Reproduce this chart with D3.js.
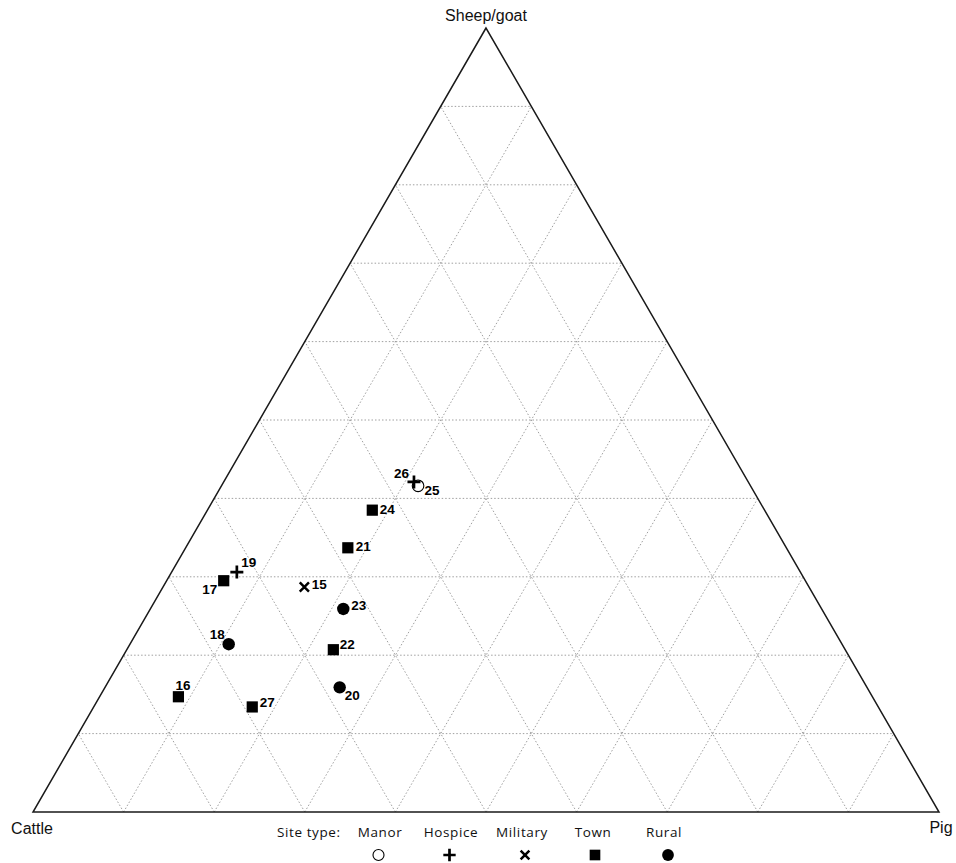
<!DOCTYPE html>
<html>
<head>
<meta charset="utf-8">
<script src="https://cdn.jsdelivr.net/npm/d3@7"></script>
<style>
  html, body { margin: 0; padding: 0; background: #fff; }
  svg { display: block; }
</style>
</head>
<body>
<svg id="chart" width="956" height="863"></svg>
<script>
// Faunal assemblage composition (% of cattle, sheep/goat, pig) by site
const siteIds   = ["15", "16", "17", "18", "19", "20", "21", "22", "23", "24", "25", "26", "27"];
const siteTypes = ["Military", "Town", "Town", "Rural", "Hospice", "Rural", "Town", "Town", "Rural", "Town", "Manor", "Hospice", "Town"];
const cattlePct = [55.7, 76.6, 64.2, 67.7, 62.2, 58.2, 48.4, 56.5, 52.8, 43.3, 36.7, 36.9, 69.1];
const sheepPct  = [28.7, 14.7, 29.5, 21.4, 30.6, 15.9, 33.7, 20.7, 25.9, 38.5, 41.6, 42.1, 13.4];
const pigPct    = [15.6,  8.7,  6.3, 10.9,  7.2, 25.9, 17.9, 22.8, 21.3, 18.2, 21.7, 21.0, 17.5];

const legendTypes = ["Manor", "Hospice", "Military", "Town", "Rural"];
const gridSteps = [10, 20, 30, 40, 50, 60, 70, 80, 90];
const axisNames = { top: "Sheep/goat", left: "Cattle", right: "Pig" };

// Label placement around each marker: [dx, dy, anchor]
const labelOffsets = {
  "15": [7.5, 2, "start"],  "16": [-3, -7, "start"], "17": [-6.5, 13.5, "end"],
  "18": [-4, -5, "end"],    "19": [4.5, -5, "start"], "20": [5, 13, "start"],
  "21": [8, 3.5, "start"],  "22": [6.5, -1, "start"], "23": [8, 1, "start"],
  "24": [7.5, 3.5, "start"],"25": [6.5, 9.5, "start"],"26": [-5, -3.5, "end"],
  "27": [7.5, 0, "start"]
};

const svg = d3.select("#chart");

// Ternary projection: vertical from sheep/goat share, horizontal from pig + half sheep/goat
const yScale = d3.scaleLinear().domain([0, 100]).range([812, 28]);
const xScale = d3.scaleLinear().domain([0, 100]).range([33, 939]);
function project(c, s, p) {
  const t = c + s + p;
  const sn = 100 * s / t, pn = 100 * p / t;
  return [xScale(pn + sn / 2), yScale(sn)];
}

// Dotted grid
const gridG = svg.append("g")
  .attr("fill", "none")
  .attr("stroke", "#a0a0a0")
  .attr("stroke-width", 1)
  .attr("stroke-dasharray", "1.5,2");
const line = d3.line();
gridSteps.forEach(k => {
  // constant sheep/goat
  gridG.append("path").attr("d", line([project(100 - k, k, 0), project(0, k, 100 - k)]));
  // constant pig
  gridG.append("path").attr("d", line([project(100 - k, 0, k), project(0, 100 - k, k)]));
  // constant cattle
  gridG.append("path").attr("d", line([project(k, 0, 100 - k), project(k, 100 - k, 0)]));
});

// Triangle outline
svg.append("path")
  .attr("d", line([project(0, 100, 0), project(100, 0, 0), project(0, 0, 100), project(0, 100, 0)]) + "Z")
  .attr("fill", "none")
  .attr("stroke", "#1a1a1a")
  .attr("stroke-width", 1.5)
  .attr("stroke-linejoin", "miter");

// Vertex labels
const apex = project(0, 100, 0), cornerL = project(100, 0, 0), cornerR = project(0, 0, 100);
svg.append("text").attr("x", apex[0]).attr("y", apex[1] - 7)
  .attr("text-anchor", "middle").attr("font-family", "Liberation Sans, Arial, sans-serif")
  .attr("font-size", 16).attr("fill", "#111").text(axisNames.top);
svg.append("text").attr("x", cornerL[0] - 1).attr("y", cornerL[1] + 22)
  .attr("text-anchor", "middle").attr("font-family", "Liberation Sans, Arial, sans-serif")
  .attr("font-size", 16).attr("fill", "#111").text(axisNames.left);
svg.append("text").attr("x", cornerR[0] + 2).attr("y", cornerR[1] + 21)
  .attr("text-anchor", "middle").attr("font-family", "Liberation Sans, Arial, sans-serif")
  .attr("font-size", 16).attr("fill", "#111").text(axisNames.right);

// Marker drawing per site type
function drawMarker(g, type, scale) {
  const k = scale || 1;
  if (type === "Town") {
    const a = 5.6 * k;
    g.append("rect").attr("x", -a).attr("y", -a).attr("width", 2 * a).attr("height", 2 * a).attr("fill", "#000");
  } else if (type === "Rural") {
    g.append("circle").attr("r", 6.2 * k).attr("fill", "#000");
  } else if (type === "Manor") {
    g.append("circle").attr("r", 5.8 * k).attr("fill", "#fff").attr("stroke", "#000").attr("stroke-width", 1.1);
  } else if (type === "Hospice") {
    const a = 6.5 * k;
    g.append("path").attr("d", `M${-a},0H${a}M0,${-a}V${a}`).attr("stroke", "#000").attr("stroke-width", 2.7);
  } else if (type === "Military") {
    const a = 4.6 * k;
    g.append("path").attr("d", `M${-a},${-a}L${a},${a}M${-a},${a}L${a},${-a}`).attr("stroke", "#000").attr("stroke-width", 2.5);
  }
}

const points = siteIds.map((id, i) => {
  const [x, y] = project(cattlePct[i], sheepPct[i], pigPct[i]);
  return { id, type: siteTypes[i], x, y };
});

// Draw order: open circle beneath the cross that overlaps it
const order = ["Manor", "Town", "Rural", "Military", "Hospice"];
const sorted = points.slice().sort((a, b) => order.indexOf(a.type) - order.indexOf(b.type));
sorted.forEach(d => {
  const g = svg.append("g").attr("transform", `translate(${d.x},${d.y})`);
  drawMarker(g, d.type, 1);
});

// Site number labels
points.forEach(d => {
  const [dx, dy, anchor] = labelOffsets[d.id];
  svg.append("text")
    .attr("x", d.x + dx).attr("y", d.y + dy)
    .attr("text-anchor", anchor)
    .attr("font-family", "Liberation Sans, Arial, sans-serif")
    .attr("font-weight", "bold")
    .attr("font-size", 13.5)
    .attr("fill", "#000")
    .text(d.id);
});

// Legend
const legendFont = "Open Sans, Noto Sans, sans-serif";
svg.append("text").attr("x", 277).attr("y", 836.5)
  .attr("font-family", legendFont).attr("font-size", 13.5).attr("letter-spacing", 0.6)
  .attr("fill", "#111").text("Site type:");
const legendX = d3.scalePoint().domain(legendTypes).range([380, 664]);
const legendSymX = { Manor: 378.5, Hospice: 449.5, Military: 525, Town: 595, Rural: 668 };
legendTypes.forEach(t => {
  svg.append("text").attr("x", legendX(t)).attr("y", 836.5)
    .attr("text-anchor", "middle")
    .attr("font-family", legendFont).attr("font-size", 13.5).attr("letter-spacing", 0.6)
    .attr("fill", "#111").text(t);
  const g = svg.append("g").attr("transform", `translate(${legendSymX[t]},855)`);
  drawMarker(g, t, 0.95);
});
</script>
</body>
</html>
